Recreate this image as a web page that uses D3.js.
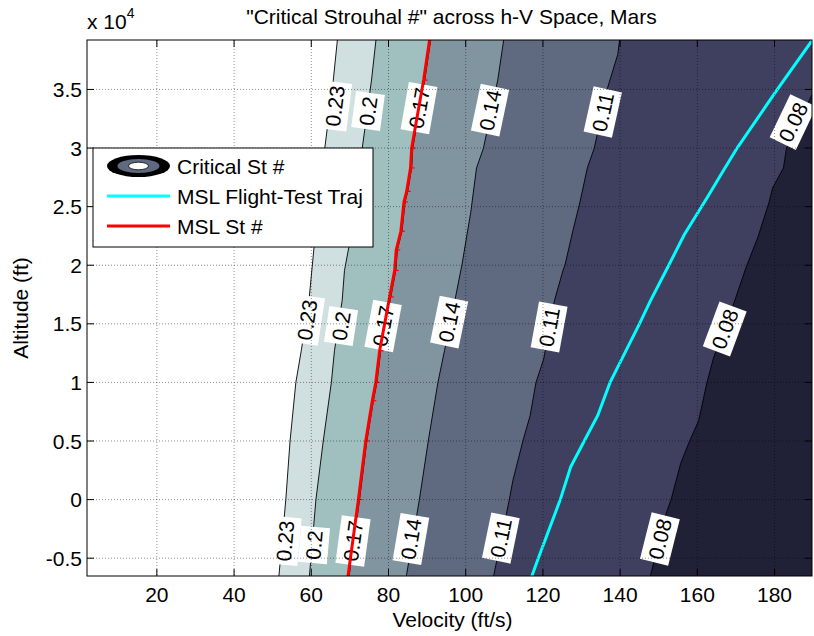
<!DOCTYPE html>
<html><head><meta charset="utf-8">
<script src="https://cdnjs.cloudflare.com/ajax/libs/d3/7.8.5/d3.min.js"></script>
<style>
body{margin:0;background:#fff}
svg{display:block}
text{font-family:Arial,"Liberation Sans",Helvetica,sans-serif;fill:#000}
</style>
</head><body>
<svg id="c" width="814" height="636"></svg>
<script>
// ---------------- data ----------------
const levels = [0.08, 0.11, 0.14, 0.17, 0.2, 0.23];

// contour lines [velocity ft/s, altitude ft], bottom -> top
const contour008 = [[147.8,-6560],[151.9,-1200],[153.2,0],[155.7,3100],[158.0,5000],[160.3,6700],[162.5,10000],[164.2,12100],[169.5,16800],[172.6,19800],[175.7,22400],[178.6,25400],[179.5,26600],[182.3,28300],[183.1,30000],[190.5,35100]];
const contour011 = [[107.2,-6560],[111.3,0],[112.2,1600],[114.8,5000],[116.7,7180],[118.2,10000],[120.2,12000],[123.0,17000],[125.2,19560],[125.7,20000],[127.8,23000],[129.6,25400],[131.5,28300],[133.3,30000],[136.8,35200],[139.4,38000],[139.9,39370]];
const contour014 = [[84.6,-6560],[88.0,0],[90.3,5000],[92.8,10000],[94.5,12700],[97.2,17000],[99.0,20000],[101.3,24500],[102.8,28300],[104.6,30000],[108.3,35800],[109.9,39370]];
const contour017 = [[69.8,-6560],[72.5,0],[74.4,5000],[76.1,8440],[77.0,10000],[78.0,12700],[80.6,17300],[81.9,19560],[82.3,21300],[83.5,22900],[84.3,25400],[85.0,26300],[86.0,28300],[86.3,30000],[89.4,35800],[91.0,39370]];
const contour020 = [[59.5,-6560],[61.2,0],[63.1,5000],[65.2,10000],[66.0,12700],[68.0,17000],[68.6,19560],[69.7,21500],[73.2,30000],[75.6,35800],[76.8,39370]];
const contour023 = [[51.6,-6560],[53.4,0],[54.5,5000],[56.0,10000],[57.4,12700],[59.4,17000],[60.7,21500],[63.5,30000],[65.7,35800],[66.8,39370]];

// MSL flight-test trajectory and MSL Strouhal-number line
const mslTraj = [[117.1,-6560],[118.8,-5000],[124.5,0],[127.2,2800],[130.7,5000],[134.2,7180],[137.4,10000],[145.0,15000],[147.9,17000],[152.6,20000],[156.6,22600],[162.6,25800],[166.6,28000],[170.3,30000],[180.5,34900],[189.8,39220]];
const mslSt = [[69.5,-6560],[72.2,0],[74.1,5000],[75.8,8440],[76.7,10000],[77.7,12700],[80.3,17300],[81.6,19560],[82.0,21300],[83.2,22900],[84.0,25400],[84.7,26300],[85.7,28300],[86.0,30000],[89.1,35800],[90.7,39370]];

// inline contour label anchors [velocity, altitude]
const labels008 = [[184.8,32220],[167.1,14560],[150.3,-3360]];
const labels011 = [[135.5,33070],[121.6,14730],[109.1,-3280]];
const labels014 = [[106.3,33240],[95.7,15150],[85.8,-3360]];
const labels017 = [[87.9,33410],[78.6,14815],[70.8,-3530]];
const labels020 = [[74.7,33160],[67.7,14815],[60.7,-3870]];
const labels023 = [[66.1,33590],[58.9,15325],[53.2,-3530]];

const xTicks = [20, 40, 60, 80, 100, 120, 140, 160, 180];
const yTicks = [-5000, 0, 5000, 10000, 15000, 20000, 25000, 30000, 35000];
const yTickLabels = ["-0.5", "0", "0.5", "1", "1.5", "2", "2.5", "3", "3.5"];
const xDomain = [1.9, 189.7];
const yDomain = [-6520, 39220];

const legendLabels = ["Critical St #", "MSL Flight-Test Traj", "MSL St #"];
const titleText = "\"Critical Strouhal #\" across h-V Space, Mars";

// ---------------- style ----------------
const bandColors = ["#202036", "#3f3f5f", "#5f6a81", "#80959f", "#a0c0bf", "#d0dfe0", "#ffffff"];
const L = 87, R = 812, T = 40, B = 576;
const FS = 21;

const contourLines = [contour008, contour011, contour014, contour017, contour020, contour023];
const contourLabels = [labels008, labels011, labels014, labels017, labels020, labels023];

const svg = d3.select("#c");
const x = d3.scaleLinear().domain(xDomain).range([L, R]);
const y = d3.scaleLinear().domain(yDomain).range([B, T]);

svg.append("defs").append("clipPath").attr("id", "clip")
  .append("rect").attr("x", L).attr("y", T).attr("width", R - L).attr("height", B - T);

const plot = svg.append("g").attr("clip-path", "url(#clip)");

plot.append("rect").attr("x", L).attr("y", T).attr("width", R - L).attr("height", B - T)
  .attr("fill", bandColors[0]);

contourLines.forEach((ln, i) => {
  const p = ln.map(d => [x(d[0]), y(d[1])]);
  const first = p[0], last = p[p.length - 1];
  const poly = [...p, [last[0], 0], [0, 0], [0, 700], [first[0], 700]];
  plot.append("path").attr("d", "M" + poly.map(q => q.join(",")).join("L") + "Z")
    .attr("fill", bandColors[i + 1]);
});

const line = d3.line().x(d => x(d[0])).y(d => y(d[1]));

contourLines.forEach(ln => {
  plot.append("path").attr("d", line(ln)).attr("fill", "none")
    .attr("stroke", "#000").attr("stroke-width", 0.9);
});

// trajectory (cyan)
plot.append("path").attr("d", line(mslTraj)).attr("fill", "none")
  .attr("stroke", "#00ffff").attr("stroke-width", 3);

// contour labels
function angleAt(ln, h) {
  for (let i = 0; i < ln.length - 1; i++) {
    const a = ln[i], b = ln[i + 1];
    if (h >= a[1] && h <= b[1]) {
      return Math.atan2(y(b[1]) - y(a[1]), x(b[0]) - x(a[0])) * 180 / Math.PI;
    }
  }
  const a = ln[0], b = ln[1];
  return Math.atan2(y(b[1]) - y(a[1]), x(b[0]) - x(a[0])) * 180 / Math.PI;
}
const labG = plot.append("g");
contourLabels.forEach((labs, i) => {
  labs.forEach(d => {
    const ang = angleAt(contourLines[i], d[1]);
    const g = labG.append("g").attr("transform", `translate(${x(d[0])},${y(d[1])}) rotate(${ang})`);
    const r = g.append("rect").attr("fill", "#fff");
    const t = g.append("text").attr("text-anchor", "middle").attr("dy", "0.36em")
      .attr("font-size", FS).text(String(levels[i]));
    const w = t.node().getComputedTextLength() + 7;
    r.attr("x", -w / 2).attr("y", -14.5).attr("width", w).attr("height", 29);
  });
});

// MSL St line (red) with small markers, drawn over labels
plot.append("path").attr("d", line(mslSt)).attr("fill", "none")
  .attr("stroke", "#ff0000").attr("stroke-width", 3);
plot.selectAll(".rtick").data(mslSt.slice(1, -1)).enter().append("line")
  .attr("x1", d => x(d[0])).attr("x2", d => x(d[0]) + 4)
  .attr("y1", d => y(d[1])).attr("y2", d => y(d[1]))
  .attr("stroke", "#ff0000").attr("stroke-width", 1.2);

// grid
const grid = svg.append("g").attr("stroke", "#000").attr("stroke-opacity", 0.55)
  .attr("stroke-width", 0.8).attr("stroke-dasharray", "1,2");
xTicks.forEach(v => grid.append("line").attr("x1", x(v)).attr("x2", x(v)).attr("y1", T).attr("y2", B));
yTicks.forEach(v => grid.append("line").attr("x1", L).attr("x2", R).attr("y1", y(v)).attr("y2", y(v)));

// ticks (inward, all four sides)
const tk = svg.append("g").attr("stroke", "#000").attr("stroke-width", 1);
const tl = 7;
xTicks.forEach(v => {
  tk.append("line").attr("x1", x(v)).attr("x2", x(v)).attr("y1", B).attr("y2", B - tl);
  tk.append("line").attr("x1", x(v)).attr("x2", x(v)).attr("y1", T).attr("y2", T + tl);
});
yTicks.forEach(v => {
  tk.append("line").attr("x1", L).attr("x2", L + tl).attr("y1", y(v)).attr("y2", y(v));
  tk.append("line").attr("x1", R).attr("x2", R - tl).attr("y1", y(v)).attr("y2", y(v));
});

svg.append("rect").attr("x", L).attr("y", T).attr("width", R - L).attr("height", B - T)
  .attr("fill", "none").attr("stroke", "#000").attr("stroke-width", 1);

// tick labels
svg.append("g").selectAll("text").data(xTicks).enter().append("text")
  .attr("x", d => x(d)).attr("y", 602).attr("text-anchor", "middle").attr("font-size", FS)
  .text(d => d);
svg.append("g").selectAll("text").data(yTicks).enter().append("text")
  .attr("x", 82).attr("y", d => y(d)).attr("dy", "0.36em").attr("text-anchor", "end")
  .attr("font-size", FS).text((d, i) => yTickLabels[i]);

// exponent
const ex = svg.append("text").attr("x", 87).attr("y", 29).attr("font-size", FS);
ex.append("tspan").text("x 10");
ex.append("tspan").attr("font-size", 14).attr("dy", -11).text("4");

// title & axis labels
svg.append("text").attr("x", (L + R) / 2 + 2).attr("y", 24).attr("text-anchor", "middle")
  .attr("font-size", FS).text(titleText);
svg.append("text").attr("x", (L + R) / 2 + 3).attr("y", 627).attr("text-anchor", "middle")
  .attr("font-size", FS).text("Velocity (ft/s)");
svg.append("text").attr("transform", `translate(28,${(T + B) / 2}) rotate(-90)`)
  .attr("text-anchor", "middle").attr("font-size", FS).text("Altitude (ft)");

// legend
const lg = svg.append("g");
lg.append("rect").attr("x", 93).attr("y", 148).attr("width", 280).attr("height", 99)
  .attr("fill", "#fff").attr("stroke", "#000").attr("stroke-width", 1);
const ic = lg.append("g").attr("transform", "translate(138.5,166)");
ic.append("ellipse").attr("rx", 31.5).attr("ry", 11).attr("fill", "#000");
ic.append("ellipse").attr("rx", 21).attr("ry", 7).attr("fill", bandColors[2]);
ic.append("ellipse").attr("rx", 10).attr("ry", 3.8).attr("fill", "#fff")
  .attr("stroke", "#000").attr("stroke-width", 0.8);
lg.append("line").attr("x1", 107).attr("x2", 170).attr("y1", 196).attr("y2", 196)
  .attr("stroke", "#00ffff").attr("stroke-width", 3);
lg.append("line").attr("x1", 107).attr("x2", 170).attr("y1", 226).attr("y2", 226)
  .attr("stroke", "#ff0000").attr("stroke-width", 3);
[174, 204, 234].forEach((yy, i) => {
  lg.append("text").attr("x", 177).attr("y", yy).attr("font-size", FS).text(legendLabels[i]);
});
</script>
</body></html>
